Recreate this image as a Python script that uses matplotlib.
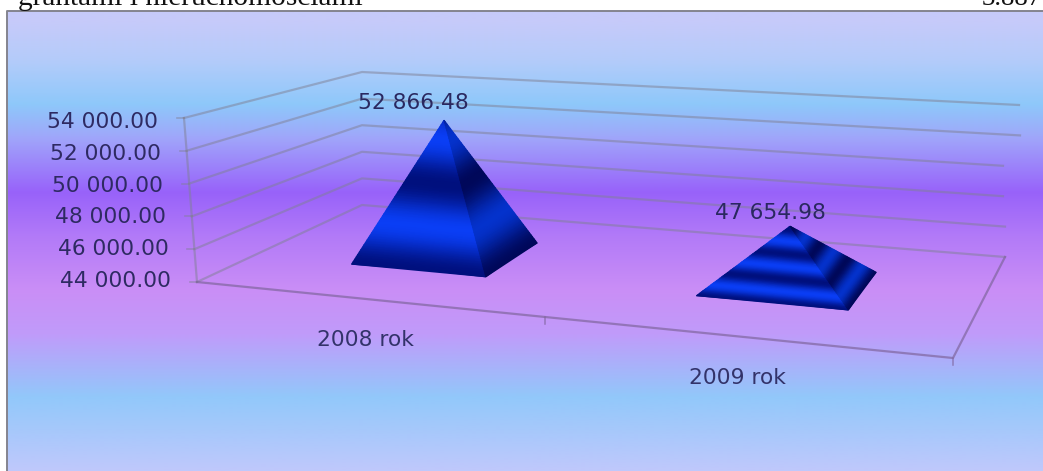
import numpy as np
import matplotlib
matplotlib.use("Agg")
import matplotlib.pyplot as plt
from matplotlib.colors import LinearSegmentedColormap

# ---- data ----
categories = ["2008 rok", "2009 rok"]
values = [52866.48, 47654.98]
axis_ticks = [44000, 46000, 48000, 50000, 52000, 54000]
caption_left = "grantami i nieruchomościami"
caption_right = "3.887"

# ---- layout (pixels of the 3D box) ----
W, H = 1043, 471
V_MIN, V_MAX = axis_ticks[0], axis_ticks[-1]
FL, FR, BL, BR = map(np.array, [(197, 282), (953, 358), (362, 205), (1005, 257)])
HEIGHTS = dict(FL=164, FR=180, BL=133, BR=152)
FL_SHIFT, BR_SHIFT = -13, 14
# placement of each pyramid on the floor (category units, depth 0..1)
bar_u = [(0.27, 0.645), (1.23, 1.655)]
bar_d = [(0.35, 0.75), (0.36, 0.75)]
bar_stripes = [1.72, 3.1]
value_label_offset = [(-31, -17), (-20, -13)]
cat_label_offset = [(58, 3), (33, -1)]
cat_tick_u = [0.92, 2]
TEXT_FONT = "DejaVu Sans"


def project(u, d, v):
    """category position u (0..2), depth d (0..1), value v -> pixel position"""
    f = u / len(categories)
    base = (1 - d) * ((1 - f) * FL + f * FR) + d * ((1 - f) * BL + f * BR)
    h = ((1 - d) * ((1 - f) * HEIGHTS["FL"] + f * HEIGHTS["FR"])
         + d * ((1 - f) * HEIGHTS["BL"] + f * HEIGHTS["BR"]))
    t = (v - V_MIN) / (V_MAX - V_MIN)
    shift = (1 - f) * (1 - d) * FL_SHIFT + f * d * BR_SHIFT
    return np.array([base[0] + shift * t, base[1] - h * t])


fig = plt.figure(figsize=(W / 100, H / 100), dpi=100, facecolor="white")
ax = fig.add_axes([0, 0, 1, 1])
ax.axis("off")

# background gradient
stops = [(11, (198, 202, 250)), (50, (180, 204, 250)), (95, (142, 200, 250)),
         (130, (160, 165, 250)), (185, (152, 98, 250)), (230, (178, 122, 248)),
         (285, (202, 142, 246)), (330, (192, 155, 250)), (395, (146, 200, 250)),
         (471, (192, 200, 252))]
ys = np.arange(H)
sy, sc = zip(*stops)
grad = np.stack([np.interp(ys, sy, [c[i] for c in sc]) for i in range(3)], axis=1) / 255
grad = grad[:, None, :]
ax.imshow(grad, extent=(7, W, H, 11), aspect="auto", zorder=0,
          interpolation="bilinear")
ax.set_xlim(0, W)
ax.set_ylim(H, 0)
ax.plot([7, 7, W], [H, 11, 11], color="#84848f", lw=1.4, zorder=1)

# captions clipped by top of picture
ax.text(18, 5, caption_left, family="Liberation Serif", fontsize=21.2,
        color="#111111", va="baseline", ha="left", zorder=1)
ax.text(1042, 5, caption_right, family="Liberation Serif", fontsize=19.4,
        color="#111111", va="baseline", ha="right", zorder=1)

# walls
grid_c = (0.50, 0.50, 0.58, 0.5)
floor_c = (0.50, 0.40, 0.62, 0.7)
right_end_x = [1005, 1005, 1003, 1003, 1020, 1019]
for k, v in enumerate(axis_ticks):
    a = project(0, 0, v)
    b = project(0, 1, v)
    c = project(2, 1, v)
    ax.plot([a[0], b[0], right_end_x[k]], [a[1], b[1], c[1]], color=grid_c, lw=1.6, zorder=2)
    ax.plot([a[0] - 7, a[0]], [a[1], a[1]], color=grid_c, lw=1.2, zorder=2)
    frac = (v - V_MIN) / (V_MAX - V_MIN)
    ax.text(a[0] - 26, a[1] - 1 + 5 * frac, f"{v:,.2f}".replace(",", " "), family=TEXT_FONT,
            fontsize=15.7, ha="right", va="center", color="#2e2a62", zorder=3)
p0, p1 = project(0, 0, V_MIN), project(0, 0, V_MAX)
ax.plot([p0[0], p1[0]], [p0[1], p1[1]], color=grid_c, lw=1.6, zorder=2)

# floor
fl, fr = project(0, 0, V_MIN), project(2, 0, V_MIN)
br = project(2, 1, V_MIN)
ax.plot([fl[0], fr[0], br[0]], [fl[1], fr[1], br[1]], color=floor_c, lw=1.6, zorder=2)
for u in cat_tick_u:
    q = project(u, 0, V_MIN)
    ax.plot([q[0], q[0]], [q[1], q[1] + 7], color=floor_c, lw=1.1, zorder=2)

# pyramids
front_cmap = LinearSegmentedColormap.from_list("f", ["#00107e", "#0a3ef5"])
side_cmap = LinearSegmentedColormap.from_list("s", ["#00085a", "#0432cc"])


def draw_face(A, B, P, stripes, cmap):
    ts = np.linspace(0, 1, 61)
    X = np.array([[A[0] + (P[0] - A[0]) * t, B[0] + (P[0] - B[0]) * t] for t in ts])
    Y = np.array([[A[1] + (P[1] - A[1]) * t, B[1] + (P[1] - B[1]) * t] for t in ts])
    s = 0.5 - 0.5 * np.cos(2 * np.pi * stripes * ts)
    C = np.column_stack([s, s])
    ax.pcolormesh(X, Y, C, shading="gouraud", cmap=cmap, vmin=0, vmax=1, zorder=4)


for i, val in enumerate(values):
    (u0, u1), (d0, d1) = bar_u[i], bar_d[i]
    um, dm = (u0 + u1) / 2, (d0 + d1) / 2
    apex = project(um, dm, val)
    a = project(u0, d0, V_MIN)
    b = project(u1, d0, V_MIN)
    c = project(u1, d1, V_MIN)
    draw_face(a, b, apex, bar_stripes[i], front_cmap)
    draw_face(b, c, apex, bar_stripes[i], side_cmap)
    ox, oy = value_label_offset[i]
    ax.text(apex[0] + ox, apex[1] + oy, f"{val:,.2f}".replace(",", " "), family=TEXT_FONT,
            fontsize=15.7, ha="center", va="center", color="#2a2860", zorder=5)
    lab = project(um, -0.45, V_MIN)
    ox, oy = cat_label_offset[i]
    ax.text(lab[0] + ox, lab[1] + oy, categories[i], family=TEXT_FONT, fontsize=15.7,
            ha="center", va="center", color="#33336a", zorder=3)

ax.set_xlim(0, W)
ax.set_ylim(H, 0)
fig.savefig("out.png", dpi=100)
